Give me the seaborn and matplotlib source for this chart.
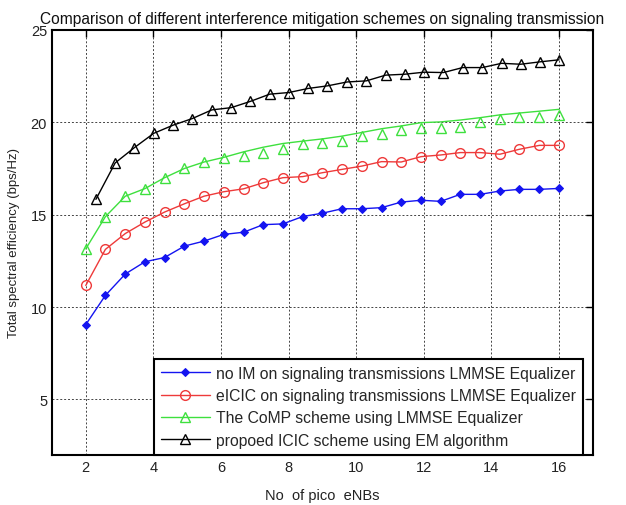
import numpy as np
import pandas as pd
import matplotlib
matplotlib.use("Agg")
import matplotlib.pyplot as plt
from matplotlib.lines import Line2D
import seaborn as sns

# x positions (No of pico eNBs)
x_main = [2.0, 2.58, 3.17, 3.75, 4.33, 4.92, 5.5, 6.08, 6.67, 7.25, 7.83, 8.42, 9.0,
          9.58, 10.17, 10.75, 11.33, 11.92, 12.5, 13.08, 13.67, 14.25, 14.83, 15.42, 16.0]
x_em = [2.3, 2.87, 3.44, 4.01, 4.58, 5.15, 5.73, 6.3, 6.87, 7.44, 8.01, 8.58, 9.15,
        9.73, 10.3, 10.87, 11.44, 12.01, 12.58, 13.15, 13.73, 14.3, 14.87, 15.44, 16.0]

no_im = [9.05, 10.63, 11.79, 12.45, 12.68, 13.3, 13.57, 13.93, 14.05, 14.46, 14.5, 14.9, 15.08,
         15.32, 15.32, 15.38, 15.68, 15.78, 15.72, 16.1, 16.1, 16.28, 16.37, 16.37, 16.42]
eicic = [11.17, 13.12, 13.98, 14.6, 15.14, 15.59, 16.0, 16.24, 16.4, 16.73, 17.0, 17.06, 17.27,
         17.45, 17.63, 17.87, 17.85, 18.14, 18.23, 18.36, 18.36, 18.27, 18.54, 18.75, 18.75]
comp_marks = [13.15, 14.89, 16.0, 16.41, 17.0, 17.5, 17.85, 18.05, 18.17, 18.36, 18.54, 18.81, 18.9,
              18.99, 19.26, 19.35, 19.58, 19.71, 19.71, 19.77, 20.02, 20.16, 20.31, 20.31, 20.38]
comp_line = [13.15, 14.89, 16.0, 16.41, 17.0, 17.5, 17.85, 18.1, 18.4, 18.65, 18.85, 18.98, 19.1,
             19.25, 19.45, 19.65, 19.8, 19.98, 20.02, 20.12, 20.25, 20.4, 20.5, 20.6, 20.7]
em_icic = [15.83, 17.8, 18.63, 19.4, 19.84, 20.2, 20.67, 20.79, 21.13, 21.52, 21.61, 21.83, 21.97,
           22.18, 22.24, 22.55, 22.6, 22.71, 22.69, 22.96, 22.96, 23.19, 23.14, 23.27, 23.38]

labels = ["no IM on signaling transmissions LMMSE Equalizer",
          "eICIC on signaling transmissions LMMSE Equalizer",
          "The CoMP scheme using LMMSE Equalizer",
          "propoed ICIC scheme using EM algorithm"]
xticks = [2, 4, 6, 8, 10, 12, 14, 16]
yticks = [5, 10, 15, 20, 25]

sns.set_style("white")
plt.rcParams['font.family'] = ['Liberation Sans', 'DejaVu Sans']

fig = plt.figure(figsize=(6.26, 5.06), dpi=100)
ax = fig.add_axes([0.083, 0.099, 0.864, 0.84])

blue = '#1414f0'
red = '#ee3a3a'
green = '#3ee03e'

sns.lineplot(x=x_main, y=no_im, ax=ax, color=blue, lw=1.0, marker='D', markersize=4,
             markerfacecolor=blue, markeredgecolor=blue, label=labels[0])
sns.lineplot(x=x_main, y=eicic, ax=ax, color=red, lw=1.0, marker='o', markersize=7,
             markerfacecolor='none', markeredgecolor=red, markeredgewidth=1.0, label=labels[1])
sns.lineplot(x=x_main, y=comp_line, ax=ax, color=green, lw=1.0, legend=False)
sns.lineplot(x=x_main, y=comp_marks, ax=ax, color=green, lw=0, marker='^', markersize=7,
             markerfacecolor='none', markeredgecolor=green, markeredgewidth=1.0, legend=False)
sns.lineplot(x=x_em, y=em_icic, ax=ax, color='black', lw=1.0, marker='^', markersize=7,
             markerfacecolor='none', markeredgecolor='black', markeredgewidth=1.0, label=labels[3])

ax.set_xlim(1, 17)
ax.set_ylim(2, 25)
ax.set_xticks(xticks)
ax.set_yticks(yticks)
ax.grid(True, color='#444444', linestyle=(0, (2, 2)), linewidth=0.7)
ax.tick_params(direction='in', top=True, right=True, length=5, width=1,
               labelsize=10.5, labelcolor='#222222', color='black')
for s in ax.spines.values():
    s.set_linewidth(1.5)
    s.set_color('black')

ax.set_title("Comparison of different interference mitigation schemes on signaling transmission",
             fontsize=11.2, pad=5, color='#111111')
ax.set_xlabel("No  of pico  eNBs", fontsize=10.5, color='#222222', labelpad=10)
ax.set_ylabel("Total spectral efficiency (bps/Hz)", fontsize=9.5, color='#222222', labelpad=8)

# legend: proxy for green line+marker
handles, _ = ax.get_legend_handles_labels()
comp_handle = Line2D([], [], color=green, lw=1.0, marker='^', markersize=7,
                     markerfacecolor='none', markeredgecolor=green)
handles = [handles[0], handles[1], comp_handle, handles[2]]
leg = ax.legend(handles, labels, loc='lower right', bbox_to_anchor=(0.982, 0.0),
                fontsize=11.3, frameon=True, fancybox=False, edgecolor='black',
                framealpha=1, handlelength=3.1, handletextpad=0.4, labelspacing=0.47,
                borderpad=0.45, borderaxespad=0)
leg.get_frame().set_linewidth(1.5)

fig.savefig("out.png", dpi=100)
